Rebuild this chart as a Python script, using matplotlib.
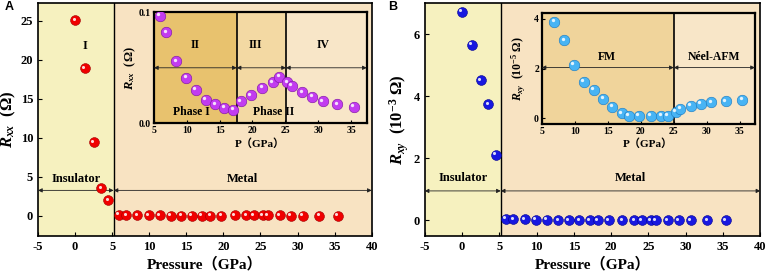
import numpy as np
import matplotlib
matplotlib.use('Agg')
import matplotlib.pyplot as plt
from matplotlib.transforms import offset_copy

# ---- data ----
p_ins = [0.0, 1.3, 2.5, 3.5, 4.5]
rxx_ins = [25.1, 18.9, 9.4, 3.5, 2.0]
rxy_ins = [6.72, 5.65, 4.52, 3.74, 2.12]  # 10^-3 Ohm

p_metal = [5.9, 6.9, 8.4, 9.9, 11.4, 12.9, 14.3, 15.7, 17.1, 18.2, 19.7,
           21.5, 23.1, 24.1, 25.3, 26.0, 27.6, 29.1, 30.7, 32.9, 35.4]
rxx_metal = [0.097, 0.082, 0.056, 0.041, 0.030, 0.021, 0.017, 0.014, 0.012,
             0.020, 0.025, 0.032, 0.037, 0.042, 0.037, 0.034, 0.028, 0.024,
             0.020, 0.017, 0.015]
# inset B has no point at 5.9 GPa (10^-5 Ohm)
rxy_metal_inset = [3.89, 3.13, 2.16, 1.48, 1.14, 0.79, 0.47, 0.20, 0.11, 0.11,
                   0.11, 0.11, 0.11, 0.27, 0.38, 0.50, 0.59, 0.64, 0.68, 0.74]
rxy_metal = [0.06] + [v / 100 for v in rxy_metal_inset]  # in 10^-3 Ohm

p_split = 5.2
a_bounds = [5, 17.6, 25.1, 37.4]
a_labels = ['II', 'III', 'IV']
b_bounds = [5, 25.0, 37.3]
b_labels = ['FM', 'Néel-AFM']

main_xticks = list(range(-5, 41, 5))
inset_xticks = list(range(5, 36, 5))

c_ins = '#f6f1bf'
c_met = '#f8e3c2'
a_cols = ['#e8c26e', '#f3d9a3', '#f8e6c8']
b_cols = ['#f0d49b', '#f8e6c8']

plt.rcParams['font.family'] = ['Liberation Serif', 'Noto Sans CJK SC']
plt.rcParams['font.weight'] = 'bold'
plt.rcParams['axes.labelweight'] = 'bold'
plt.rcParams['axes.unicode_minus'] = False
plt.rcParams['mathtext.fontset'] = 'custom'
plt.rcParams['mathtext.it'] = 'Liberation Serif:italic:bold'
plt.rcParams['mathtext.rm'] = 'Liberation Serif:bold'
plt.rcParams['mathtext.bf'] = 'Liberation Serif:bold'

fig = plt.figure(figsize=(7.68, 2.75), dpi=100)
fig.patch.set_facecolor('white')


def balls(ax, x, y, color, dark, s):
    ax.scatter(x, y, s=s, color=color, edgecolors=dark, linewidths=0.4, zorder=5)
    tr = offset_copy(ax.transData, fig=fig, x=-1.1, y=1.1, units='points')
    ax.scatter(x, y, s=s * 0.1, color='white', alpha=0.85, linewidths=0,
               zorder=6, transform=tr)


def arrow(ax, x0, x1, y, lw=0.6, ms=6):
    ax.annotate('', xy=(x1, y), xytext=(x0, y),
                arrowprops=dict(arrowstyle='<|-|>', color='#222222', lw=lw,
                                shrinkA=0, shrinkB=0, mutation_scale=ms),
                zorder=3)


def set_ticks(ax, xt, yt, ylabels=None):
    ax.set_xticks(xt, labels=[str(v) for v in xt], fontweight='bold')
    ax.set_yticks(yt, labels=ylabels or [str(v) for v in yt], fontweight='bold')


def main_panel(ax, ylim, yticks, ylabel, y_ins, y_met, col, dark, arr_y, lab_y):
    ax.set_xlim(-5, 40)
    ax.set_ylim(*ylim)
    ax.axvspan(-5, p_split, color=c_ins, zorder=0)
    ax.axvspan(p_split, 40, color=c_met, zorder=0)
    ax.axvline(p_split, color='k', lw=1.0, zorder=2)
    arrow(ax, -5, p_split, arr_y)
    arrow(ax, p_split, 40, arr_y)
    ax.text(0.1, lab_y, 'Insulator', ha='center', va='bottom', fontsize=9)
    ax.text(22.6, lab_y, 'Metal', ha='center', va='bottom', fontsize=9)
    balls(ax, p_ins, y_ins, col, dark, 50)
    balls(ax, p_metal, y_met, col, dark, 50)
    set_ticks(ax, main_xticks, yticks)
    ax.tick_params(direction='in', labelsize=9, length=3, width=0.8)
    ax.set_xlabel('Pressure（GPa）', fontsize=11, labelpad=3)
    ax.set_ylabel(ylabel, fontsize=12, labelpad=2)
    for s in ax.spines.values():
        s.set_linewidth(1.2)


def inset_box(ax, xlim, ylim, bounds, cols, arr_y, yticks, ylabels=None):
    ax.set_xlim(*xlim)
    ax.set_ylim(*ylim)
    for i in range(len(cols)):
        ax.axvspan(bounds[i], bounds[i + 1], color=cols[i], zorder=0)
        arrow(ax, bounds[i], bounds[i + 1], arr_y, lw=0.6, ms=6)
    for b in bounds[1:-1]:
        ax.axvline(b, color='k', lw=1.2, zorder=2)
    set_ticks(ax, inset_xticks, yticks, ylabels)
    ax.tick_params(direction='in', labelsize=7, length=2.5, width=0.8, pad=2)
    ax.set_xlabel('P（GPa）', fontsize=8, labelpad=2)
    for s in ax.spines.values():
        s.set_linewidth(1.6)


axA = fig.add_axes([0.0495, 0.142, 0.4345, 0.847])
main_panel(axA, (-2.6, 27.3), list(range(0, 26, 5)), r'$R_{xx}\ \ (\Omega)$',
           rxx_ins, rxx_metal, '#f00000', '#a00000', 3.25, 3.9)
axA.text(1.3, 21.8, 'I', ha='center', va='center', fontsize=9)

axB = fig.add_axes([0.553, 0.142, 0.437, 0.847])
main_panel(axB, (-0.5, 7.0), [0, 2, 4, 6], r'$R_{xy}\ \ (10^{-3}\ \Omega)$',
           rxy_ins, rxy_metal, '#1818e0', '#000090', 0.95, 1.18)

fig.text(0.006, 0.965, 'A', fontsize=9, fontweight='bold', family='Liberation Sans')
fig.text(0.506, 0.965, 'B', fontsize=9, fontweight='bold', family='Liberation Sans')

# inset A
iA = fig.add_axes([0.2005, 0.552, 0.277, 0.403])
inset_box(iA, (5, 37.4), (0, 0.1), a_bounds, a_cols, 0.05, [0.0, 0.1], ['0.0', '0.1'])
iA.set_ylabel(r'$R_{xx}\ \ (\Omega)$', fontsize=9, labelpad=1)
iA.yaxis.set_label_coords(-0.075, 0.5)
for lab, x in zip(a_labels, [11.3, 20.5, 30.7]):
    iA.text(x, 0.0705, lab, ha='center', va='center', fontsize=8.5)
iA.text(10.7, 0.0105, 'Phase I', ha='center', va='center', fontsize=8.5)
iA.text(23.2, 0.0105, 'Phase II', ha='center', va='center', fontsize=8.5)
balls(iA, p_metal, rxx_metal, '#c23cf0', '#7a10a0', 58)

# inset B
iB = fig.add_axes([0.7053, 0.549, 0.2777, 0.405])
inset_box(iB, (5, 37.3), (-0.23, 4.25), b_bounds, b_cols, 2.04, [0, 2, 4])
iB.set_ylabel(r'$R_{xy}\ \ (10^{-5}\ \Omega)$', fontsize=8.5, labelpad=1)
iB.yaxis.set_label_coords(-0.065, 0.5)
for lab, x in zip(b_labels, [14.95, 31.1]):
    iB.text(x, 2.46, lab, ha='center', va='center', fontsize=8.5)
balls(iB, p_metal[1:], rxy_metal_inset, '#48b4f4', '#1878c0', 58)

fig.savefig('out.png', dpi=100)
